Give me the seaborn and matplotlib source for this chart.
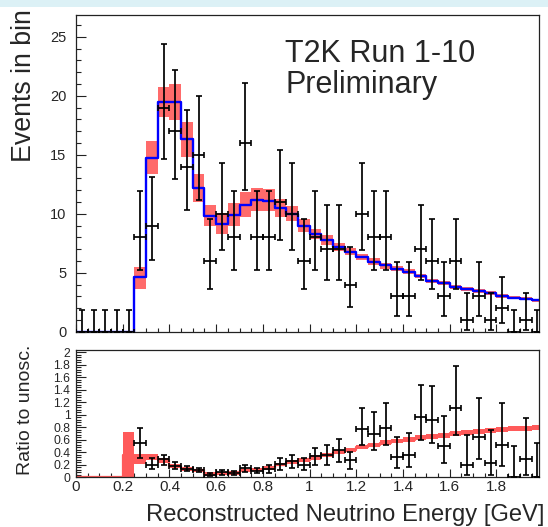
import numpy as np
import pandas as pd
import matplotlib
matplotlib.use("Agg")
import matplotlib.pyplot as plt
import seaborn as sns
from matplotlib.patches import Rectangle
from matplotlib.ticker import MultipleLocator, FuncFormatter

sns.set_style("ticks")
plt.rcParams['font.family'] = ['Liberation Sans', 'DejaVu Sans']

nan = np.nan
bin_width = 0.05
n_bins = 40

# observed counts per 0.05 GeV bin (0 - 2 GeV)
counts = [0, 0, 0, 0, 0, 8, 9, 19, 17, 14,
          15, 6, 10, 8, 16, 8, 8, 11, 10, 6,
          8, 7, 7, 4, 10, 8, 8, 3, 3, 7,
          6, 3, 6, 1, 3, 1, 2, 0, 1, 0]

# Poisson (Garwood) interval per count value, as drawn
pois_lo = [0.0, 0.173, 0.708, 1.367, 2.086, 2.840, 3.620, 4.419, 5.232, 6.057,
           6.891, 7.734, 8.585, 9.441, 10.30, 11.17, 12.04, 12.92, 13.80, 14.68]
pois_hi = [1.841, 3.300, 4.638, 5.918, 7.163, 8.382, 9.584, 10.77, 11.95, 13.11,
           14.27, 15.42, 16.56, 17.70, 18.83, 19.96, 21.08, 22.20, 23.32, 24.42]

# oscillated prediction (blue)
pred = [0, 0, 0, 0, 0, 4.6, 14.7, 19.5, 19.45, 16.3,
        12.2, 9.8, 9.1, 9.9, 10.75, 11.2, 11.1, 10.5, 10.0, 9.0,
        8.25, 7.77, 7.17, 6.78, 6.3, 5.93, 5.62, 5.31, 5.08, 4.74,
        4.32, 4.12, 3.77, 3.6, 3.44, 3.27, 3.05, 2.89, 2.81, 2.65]

# systematic band of prediction (red boxes)
box_lo = [nan, nan, nan, nan, nan, 3.64, 13.33, 18.22, 17.93, 14.83,
          10.98, 8.95, 8.25, 8.95, 9.74, 10.2, 10.2, 9.74, 9.37, 8.44,
          7.82, 7.37, 6.83, 6.47, 6.04, 5.68, 5.34, 5.11, 4.88, 4.58,
          4.15, 3.95, 3.58, 3.42, 3.27, 3.1, 2.88, 2.74, 2.65, 2.51]
box_hi = [nan, nan, nan, nan, nan, 5.5, 16.15, 20.76, 20.96, 17.82,
          13.4, 10.7, 10.08, 10.93, 11.83, 12.2, 12.1, 11.21, 10.64, 9.52,
          8.67, 8.16, 7.54, 7.09, 6.61, 6.21, 5.85, 5.56, 5.28, 4.91,
          4.49, 4.29, 3.95, 3.75, 3.61, 3.44, 3.22, 3.05, 2.97, 2.8]

# ratio panel: data / unoscillated
ratio = [nan, nan, nan, nan, nan, 0.54, 0.20, 0.285, 0.18, 0.13,
         0.11, 0.04, 0.075, 0.07, 0.14, 0.10, 0.13, 0.21, 0.25, 0.20,
         0.33, 0.355, 0.43, 0.27, 0.77, 0.69, 0.79, 0.32, 0.36, 0.955,
         0.92, 0.49, 1.11, 0.20, 0.64, 0.23, 0.505, 0.0, 0.29, 0.0]
ratio_hi = [nan, nan, nan, nan, nan, 0.79, 0.30, 0.35, 0.24, 0.17,
            0.15, 0.07, 0.11, 0.10, 0.20, 0.15, 0.19, 0.30, 0.35, 0.30,
            0.47, 0.51, 0.61, 0.40, 1.10, 1.045, 1.18, 0.64, 0.71, 1.47,
            1.46, 0.975, 1.78, 0.67, 1.27, 0.76, 1.18, 0.49, 0.95, 0.55]
ratio_lo = [nan, nan, nan, nan, nan, 0.30, 0.135, 0.20, 0.13, 0.09,
            0.075, 0.015, 0.04, 0.04, 0.08, 0.06, 0.07, 0.12, 0.145, 0.11,
            0.20, 0.20, 0.24, 0.135, 0.51, 0.44, 0.505, 0.14, 0.16, 0.59,
            0.55, 0.23, 0.67, 0.03, 0.295, 0.03, 0.17, 0.0, 0.04, 0.0]

# ratio panel: prediction / unoscillated band
band_c = [0, 0, 0, 0, 0.36, 0.29, 0.32, 0.27, 0.18, 0.13,
          0.105, 0.05, 0.06, 0.065, 0.11, 0.12, 0.145, 0.20, 0.245, 0.275,
          0.315, 0.355, 0.40, 0.44, 0.48, 0.505, 0.55, 0.575, 0.60, 0.63,
          0.645, 0.665, 0.70, 0.71, 0.73, 0.75, 0.76, 0.77, 0.785, 0.795]
band_h = [0, 0, 0, 0, 0.36, 0.085, 0.045, 0.038, 0.035, 0.03,
          0.025, 0.027, 0.025, 0.025, 0.025, 0.025, 0.027, 0.03, 0.032, 0.035,
          0.035, 0.032, 0.032, 0.032, 0.03, 0.032, 0.04, 0.037, 0.04, 0.04,
          0.04, 0.04, 0.043, 0.04, 0.04, 0.04, 0.04, 0.04, 0.04, 0.04]

edges = np.round(np.arange(n_bins + 1) * bin_width, 4)
left = edges[:-1]
centers = left + bin_width / 2

counts_a = np.array(counts)
lo_a = np.array(pois_lo)[counts_a]
hi_a = np.array(pois_hi)[counts_a]
pred_a = np.array(pred)
box_lo_a = np.array(box_lo)
box_hi_a = np.array(box_hi)
ratio_a = np.array(ratio)
rhi_a = np.array(ratio_hi)
rlo_a = np.array(ratio_lo)
bc = np.array(band_c)
bh = np.array(band_h)

df = pd.DataFrame({'center': centers, 'pred': pred_a})

W, H = 548, 527
fig = plt.figure(figsize=(W / 100, H / 100), dpi=100)
fig.patch.set_facecolor('white')
fig.patches.append(Rectangle((0, 1 - 7 / H), 1, 7 / H, transform=fig.transFigure,
                             facecolor='#dcf1f6', edgecolor='none', zorder=-5))

ax1 = fig.add_axes([76 / W, 1 - 331.7 / H, 463 / W, 316.7 / H])
ax2 = fig.add_axes([76 / W, 1 - 477 / H, 463 / W, 127 / H])
xmax = 1.982

# --- top panel ---
ok = ~np.isnan(box_lo_a)
ax1.bar(left[ok], (box_hi_a - box_lo_a)[ok], bottom=box_lo_a[ok], width=bin_width,
        align='edge', color='#ff6b6b', linewidth=0, zorder=1)
sns.histplot(data=df, x='center', weights='pred', bins=edges.tolist(), element='step',
             fill=False, color='#0000ff', linewidth=1.7, ax=ax1, zorder=2)
ax1.errorbar(centers, counts_a, xerr=bin_width / 2, yerr=[counts_a - lo_a, hi_a - counts_a],
             fmt='none', ecolor='black', elinewidth=1.25, capsize=2, capthick=1.2, zorder=3)
ax1.set_xlim(0, xmax)
ax1.set_ylim(0, 26.85)
ax1.set_ylabel('')
ax1.set_xlabel('')
ax1.xaxis.set_major_locator(MultipleLocator(0.2))
ax1.xaxis.set_minor_locator(MultipleLocator(0.05))
ax1.yaxis.set_major_locator(MultipleLocator(5))
ax1.yaxis.set_minor_locator(MultipleLocator(1))
ax1.tick_params(axis='both', which='both', direction='in', top=False, right=False,
                color='#222222', width=0.8)
ax1.tick_params(axis='x', which='major', length=6, labelbottom=False)
ax1.tick_params(axis='x', which='minor', length=3)
ax1.tick_params(axis='y', which='major', length=7.5, labelsize=10.5, pad=7)
ax1.tick_params(axis='y', which='minor', length=3.8)
fig.text(285 / W, 1 - 62.3 / H, 'T2K Run 1-10', fontsize=22, va='baseline', ha='left')
fig.text(285 / W, 1 - 93.3 / H, 'Preliminary', fontsize=22, va='baseline', ha='left')

# --- ratio panel ---
ax2.bar(left, 2 * bh, bottom=bc - bh, width=bin_width, align='edge',
        color='#ff5a5a', linewidth=0, zorder=1)
ax2.step(edges, np.append(bc, bc[-1]), where='post', color='#ff5a5a', linewidth=1.6, zorder=1)
ax2.errorbar(centers, ratio_a, xerr=bin_width / 2, yerr=[ratio_a - rlo_a, rhi_a - ratio_a],
             fmt='none', ecolor='black', elinewidth=1.25, capsize=2, capthick=1.2, zorder=3)
ax2.set_xlim(0, xmax)
ax2.set_ylim(0, 2.035)
ax2.xaxis.set_major_locator(MultipleLocator(0.2))
ax2.xaxis.set_minor_locator(MultipleLocator(0.05))
ax2.yaxis.set_major_locator(MultipleLocator(0.2))
ax2.yaxis.set_minor_locator(MultipleLocator(0.04))
fmt = FuncFormatter(lambda v, p: f"{round(v, 3):g}")
ax2.xaxis.set_major_formatter(fmt)
ax2.yaxis.set_major_formatter(fmt)
ax2.tick_params(axis='both', which='both', direction='in', top=False, right=False,
                color='#222222', width=0.8)
ax2.tick_params(axis='x', which='major', length=6, labelsize=11, pad=2.5)
ax2.tick_params(axis='x', which='minor', length=3)
ax2.tick_params(axis='y', which='major', length=7.5, labelsize=8.7, pad=4)
ax2.tick_params(axis='y', which='minor', length=3.8)

for ax in (ax1, ax2):
    for s in ax.spines.values():
        s.set_linewidth(0.9)
        s.set_color('#222222')
        s.set_visible(True)

fig.text(24 / W, 1 - 9 / H, 'Events in bin', rotation=90, ha='center', va='top', fontsize=19.3)
fig.text(26 / W, 1 - 345 / H, 'Ratio to unosc.', rotation=90, ha='center', va='top', fontsize=14)
fig.text(545 / W, (H - 521) / H, 'Reconstructed Neutrino Energy [GeV]', ha='right',
         va='baseline', fontsize=17.1)

fig.savefig('out.png', dpi=100, facecolor='white')
